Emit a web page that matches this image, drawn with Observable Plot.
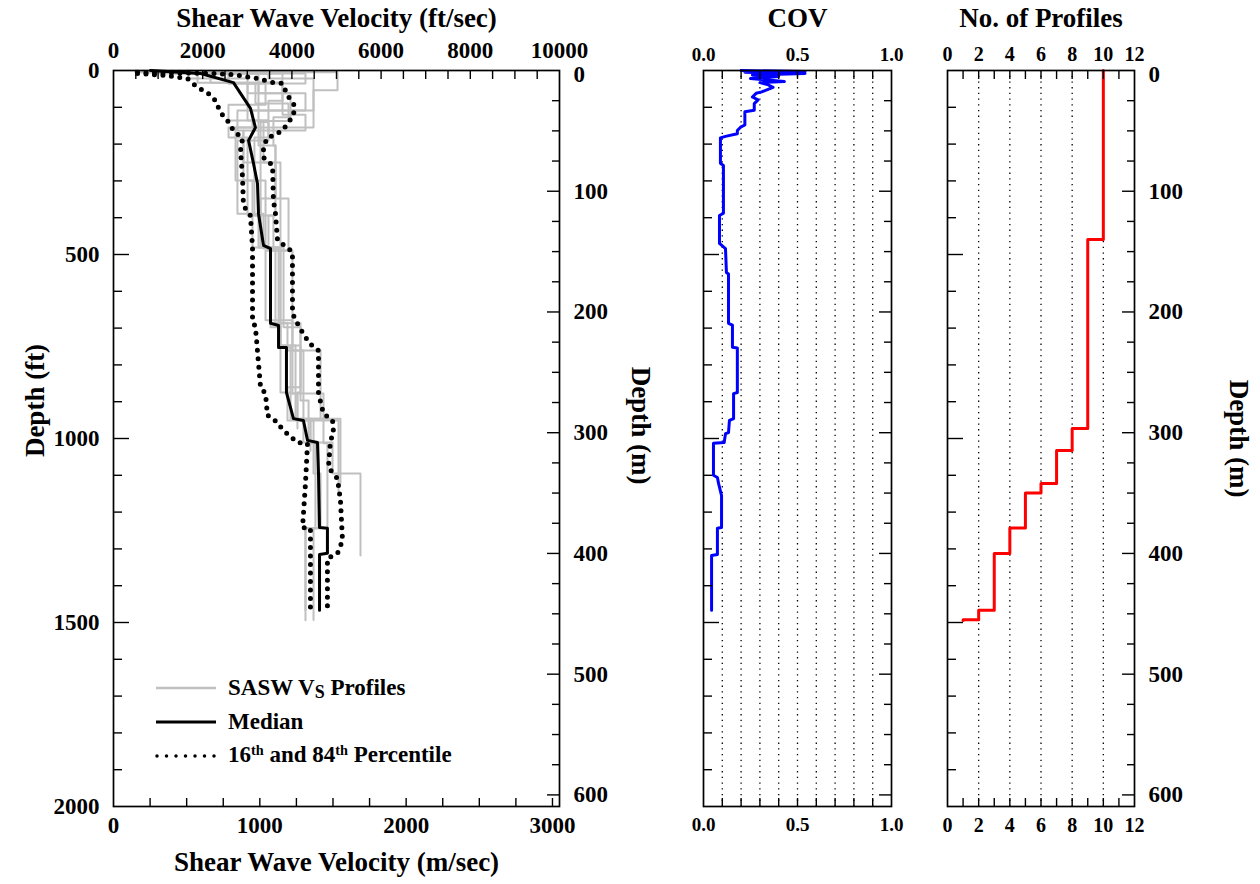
<!DOCTYPE html>
<html><head><meta charset="utf-8">
<script src="https://cdn.jsdelivr.net/npm/d3@7"></script>
<script src="https://cdn.jsdelivr.net/npm/@observablehq/plot@0.6"></script>
<style>
body{margin:0;background:#fff;}
#wrap{position:relative;width:1260px;height:884px;overflow:hidden;font-family:"Liberation Serif","Times New Roman",serif;font-weight:bold;}
#wrap svg.panel{position:absolute;top:0;}
#legend{position:absolute;left:155px;top:671px;font:bold 23px "Liberation Serif","Times New Roman",serif;color:#000;}
#legend .row{display:flex;align-items:center;height:34px;line-height:34px;white-space:nowrap;}
#legend svg{margin-right:11px;}
#legend sub{font-size:0.78em;position:relative;top:0.22em;vertical-align:baseline;}
#legend sup{font-size:0.62em;position:relative;top:-0.5em;vertical-align:baseline;}
</style></head><body>
<div id="wrap">
  <div id="legend">
    <div class="row"><svg width="62" height="10"><line x1="1" x2="61" y1="5" y2="5" stroke="#c0c0c0" stroke-width="2.5"/></svg><span>SASW V<sub>S</sub> Profiles</span></div>
    <div class="row"><svg width="62" height="10"><line x1="1" x2="61" y1="5" y2="5" stroke="#000" stroke-width="3"/></svg><span>Median</span></div>
    <div class="row"><svg width="62" height="10"><line x1="2" x2="61" y1="5" y2="5" stroke="#000" stroke-width="3.5" stroke-linecap="round" stroke-dasharray="0 9.5"/></svg><span>16<sup>th</sup> and 84<sup>th</sup> Percentile</span></div>
  </div>
</div>
<script>
const mPerFt = 0.3048;
const ftPerM = 1 / mPerFt;

// ---- SASW Vs profiles: layer boundaries (ft) and Vs (m/sec) ----
const sasw1Depth = [0,5,54,155,182,394,481,687,761,946,1013,1244,1494];
const sasw1Vs    = [200,1531,1367,786,916,991,1107,1189,1298,1346,1401,1312];
const sasw2Depth = [0,8,33,82,136,204,348,489,679,878,951,1095,1244,1493];
const sasw2Vs    = [300,663,1155,1059,991,1107,1196,1039,1223,1257,1367,1415,1367];
const sasw3Depth = [0,5,22,62,109,163,299,481,698,875,946,1011,1244,1467];
const sasw3Vs    = [150,513,916,1312,847,888,950,1073,1141,1210,1298,1380,1312];
const sasw4Depth = [0,8,35,90,137,250,394,489,747,897,1011,1095,1318];
const sasw4Vs    = [513,786,970,1196,1025,1107,1059,1141,1278,1333,1497,1688];
const sasw5Depth = [0,8,33,140,190,389,484,753,878,1013,1243];
const sasw5Vs    = [400,1155,991,1059,847,1025,1128,1210,1435,1462];
const sasw6Depth = [0,5,33,120,163,250,481,687,861,951,1148];
const sasw6Vs    = [250,574,1155,1312,888,1141,1073,1278,1189,1538];
const sasw7Depth = [0,5,35,93,136,299,481,747,946,1122];
const sasw7Vs    = [350,788,1039,786,1005,1039,1141,1244,1551];
const sasw8Depth = [0,8,35,136,182,394,489,761,946,1033];
const sasw8Vs    = [600,1312,916,1059,963,1093,1223,1415,1346];
const sasw9Depth = [0,8,22,109,155,299,481,698,875,973];
const sasw9Vs    = [916,1059,1367,950,834,1005,1162,1278,1257];
const sasw10Depth = [0,8,62,127,204,348,459];
const sasw10Vs    = [450,991,1210,1093,1107,1005];

// ---- Median and percentiles (vertices: Vs m/sec, depth ft) ----
const medianVs    = [253,595,820,868,936,970,923,957,984,991,1025,1073,1073,1128,1128,1182,1182,1230,1298,1326,1394,1401,1408,1462,1462,1408,1408];
const medianDepth = [0,8,33,62,103,155,190,253,307,389,475,484,687,693,753,753,875,946,951,1005,1011,1095,1242,1244,1312,1315,1467];
const p16Vs    = [164,369,506,574,642,697,731,779,820,882,868,882,888,936,950,950,970,1005,1039,1052,1093,1162,1257,1326,1312,1292,1346,1346];
const p16Depth = [8,14,22,46,60,82,114,136,163,185,217,291,367,394,481,679,698,861,878,937,946,978,1011,1013,1122,1242,1244,1462];
const p84Vs    = [164,683,820,984,1093,1155,1175,1210,1237,1230,1196,1155,1093,1052,1025,1025,1087,1093,1107,1121,1189,1223,1223,1264,1312,1367,1401,1401,1435,1497,1504,1483,1469,1531,1551,1565,1531,1462,1462];
const p84Depth = [5,8,11,22,33,35,54,82,95,122,141,163,177,182,209,236,258,353,389,462,481,494,660,693,725,753,761,878,932,951,986,1005,1079,1109,1168,1277,1312,1326,1467];

// ---- COV vs depth (ft) ----
const covValue = [0.20,0.54,0.22,0.54,0.26,0.40,0.25,0.43,0.30,0.34,0.37,0.35,0.31,0.28,0.26,0.29,0.27,0.27,0.22,0.22,0.197,0.18,0.18,0.117,0.09,0.09,0.106,0.106,0.085,0.085,0.117,0.122,0.133,0.133,0.154,0.154,0.18,0.18,0.16,0.16,0.138,0.133,0.117,0.11,0.053,0.053,0.074,0.08,0.096,0.096,0.074,0.074,0.043,0.043];
const covDepth = [0,3,5,8,12,16,22,30,33,38,46,50,58,62,72,80,90,108,112,148,154,163,172,179,183,252,258,388,394,470,484,549,553,687,692,752,754,875,878,946,951,984,987,1011,1013,1100,1106,1122,1155,1242,1244,1315,1318,1467];

// ---- Number of profiles: layer boundaries (m) and counts ----
const countDepthM = [0,140,296.5,314.8,342,350,379,400,447,455,455.5];
const countN      = [10,9,8,7,6,5,4,3,2,1];

// ---- Tick labels ----
const ftSecLabels = [0,2000,4000,6000,8000,10000];
const mSecLabels = [0,1000,2000,3000];
const depthFtLabels = [0,500,1000,1500,2000];
const depthMLabels = [0,100,200,300,400,500,600];
const covLabels = [0,0.5,1.0];
const countLabels = [0,2,4,6,8,10,12];

// ---- build tables ----
const saswList = [[sasw1Depth,sasw1Vs],[sasw2Depth,sasw2Vs],[sasw3Depth,sasw3Vs],[sasw4Depth,sasw4Vs],[sasw5Depth,sasw5Vs],[sasw6Depth,sasw6Vs],[sasw7Depth,sasw7Vs],[sasw8Depth,sasw8Vs],[sasw9Depth,sasw9Vs],[sasw10Depth,sasw10Vs]];
const saswPts = [];
saswList.forEach(([dep, vs], id) => {
  vs.forEach((v, i) => {
    saswPts.push({id, vs: v, depth: dep[i]});
    saswPts.push({id, vs: v, depth: dep[i + 1]});
  });
});
const zipPts = (xs, ys) => xs.map((v, i) => ({vs: v, depth: ys[i]}));
const medianPts = zipPts(medianVs, medianDepth);
const p16Pts = zipPts(p16Vs, p16Depth);
const p84Pts = zipPts(p84Vs, p84Depth);
const covPts = covValue.map((c, i) => ({cov: c, depth: covDepth[i]}));
const countPts = [];
countN.forEach((n, i) => {
  countPts.push({n, depth: countDepthM[i] * ftPerM});
  countPts.push({n, depth: countDepthM[i + 1] * ftPerM});
});

const fontStyle = {fontFamily: "'Liberation Serif','Times New Roman',serif", fontWeight: "bold", background: "transparent", overflow: "visible", color: "black"};
const intFmt = d3.format("d");
const titleOpts = {fontSize: 27, fontWeight: "bold", textAnchor: "middle", lineAnchor: "middle"};
const mFmt = d => intFmt(Math.round(d / ftPerM));

// depth ticks shared by the three panels
const ftMinor = d3.range(100, 2000, 100).filter(d => d % 500 !== 0);
const ftMajor = [500, 1000, 1500];
const mMinor = d3.range(25, 610, 25).filter(d => d % 100 !== 0).map(m => m * ftPerM);
const mMajor = [100, 200, 300, 400, 500, 600].map(m => m * ftPerM);
function depthTickMarks() {
  return [
    Plot.axisY(ftMinor, {anchor: "left", tickSize: -9, fill: "none", label: null, strokeWidth: 1.4}),
    Plot.axisY(ftMajor, {anchor: "left", tickSize: -16, fill: "none", label: null, strokeWidth: 1.4}),
    Plot.axisY(mMinor, {anchor: "right", tickSize: -8, fill: "none", label: null, strokeWidth: 1.4}),
    Plot.axisY(mMajor, {anchor: "right", tickSize: -13, fill: "none", label: null, strokeWidth: 1.4})
  ];
}
function depthMLabelMarks() {
  return [
    Plot.axisY(depthMLabels.slice(0, 1).map(m => m * ftPerM), {anchor: "right", tickSize: 0, tickPadding: 14, dy: 4, tickFormat: mFmt, fontSize: 23, label: null}),
    Plot.axisY(depthMLabels.slice(1).map(m => m * ftPerM), {anchor: "right", tickSize: 0, tickPadding: 14, tickFormat: mFmt, fontSize: 23, label: null})
  ];
}
const common = {height: 884, marginTop: 70, marginBottom: 78, style: fontStyle, y: {domain: [0, 2000], reverse: true}};

// ---- Panel 1: Vs profiles ----
const p1 = Plot.plot({
  ...common,
  width: 660, marginLeft: 113, marginRight: 101,
  x: {domain: [0, 10000 * mPerFt]},
  marks: [
    Plot.line(saswPts, {x: "vs", y: "depth", z: "id", stroke: "#c0c0c0", strokeWidth: 2}),
    Plot.line(p16Pts, {x: "vs", y: "depth", stroke: "black", strokeWidth: 5, strokeDasharray: "0 8.5", strokeLinecap: "round"}),
    Plot.line(p84Pts, {x: "vs", y: "depth", stroke: "black", strokeWidth: 5, strokeDasharray: "0 8.5", strokeLinecap: "round"}),
    Plot.line(medianPts, {x: "vs", y: "depth", stroke: "black", strokeWidth: 3}),
    Plot.frame({stroke: "black", strokeWidth: 1.7}),
    ...depthTickMarks(),
    Plot.axisX(d3.range(500, 10000, 500).map(f => f * mPerFt), {anchor: "top", tickSize: -8, fill: "none", label: null, strokeWidth: 1.4}),
    Plot.axisX(d3.range(250, 3048, 250), {anchor: "bottom", tickSize: -8, fill: "none", label: null, strokeWidth: 1.4}),
    Plot.axisX(ftSecLabels.map(f => f * mPerFt), {anchor: "top", tickSize: 0, tickPadding: 13, tickFormat: d => intFmt(Math.round(d / mPerFt)), fontSize: 23, label: null}),
    Plot.axisX(mSecLabels, {anchor: "bottom", tickSize: 0, tickPadding: 10, tickFormat: intFmt, fontSize: 23, label: null}),
    Plot.axisY(depthFtLabels, {anchor: "left", tickSize: 0, tickPadding: 14, tickFormat: intFmt, fontSize: 23, label: null}),
    ...depthMLabelMarks(),
    Plot.text(["Shear Wave Velocity (ft/sec)"], {frameAnchor: "top", dy: -52, ...titleOpts}),
    Plot.text(["Shear Wave Velocity (m/sec)"], {frameAnchor: "bottom", dy: 56, ...titleOpts}),
    Plot.text(["Depth (ft)"], {frameAnchor: "left", dx: -78, dy: -38, rotate: -90, ...titleOpts}),
    Plot.text(["Depth (m)"], {frameAnchor: "right", dx: 81, dy: -13, rotate: 90, ...titleOpts})
  ]
});

// ---- Panel 2: COV ----
const p2 = Plot.plot({
  ...common,
  width: 260, marginLeft: 43, marginRight: 29,
  x: {domain: [0, 1]},
  marks: [
    Plot.ruleX(d3.range(1, 10).map(i => i / 10), {stroke: "black", strokeWidth: 1.3, strokeDasharray: "1.3 4.4"}),
    Plot.line(covPts, {x: "cov", y: "depth", stroke: "#0000ff", strokeWidth: 3}),
    Plot.frame({stroke: "black", strokeWidth: 1.7}),
    ...depthTickMarks(),
    Plot.axisX(d3.range(1, 10).map(i => i / 10), {anchor: "top", tickSize: -8, fill: "none", label: null, strokeWidth: 1.4}),
    Plot.axisX(d3.range(1, 10).map(i => i / 10), {anchor: "bottom", tickSize: -8, fill: "none", label: null, strokeWidth: 1.4}),
    Plot.axisX(covLabels, {anchor: "top", tickSize: 0, tickPadding: 10, tickFormat: d3.format(".1f"), fontSize: 19, label: null}),
    Plot.axisX(covLabels, {anchor: "bottom", tickSize: 0, tickPadding: 11, tickFormat: d3.format(".1f"), fontSize: 19, label: null}),
    Plot.text(["COV"], {frameAnchor: "top", dy: -52, ...titleOpts})
  ]
});

// ---- Panel 3: number of profiles ----
const p3 = Plot.plot({
  ...common,
  width: 340, marginLeft: 27, marginRight: 126,
  x: {domain: [0, 12]},
  marks: [
    Plot.ruleX([2, 4, 6, 8, 10], {stroke: "black", strokeWidth: 1.3, strokeDasharray: "1.3 4.4"}),
    Plot.line(countPts, {x: "n", y: "depth", stroke: "#ff0000", strokeWidth: 3}),
    Plot.frame({stroke: "black", strokeWidth: 1.7}),
    ...depthTickMarks(),
    Plot.axisX(d3.range(1, 12), {anchor: "top", tickSize: -8, fill: "none", label: null, strokeWidth: 1.4}),
    Plot.axisX(d3.range(1, 12), {anchor: "bottom", tickSize: -8, fill: "none", label: null, strokeWidth: 1.4}),
    Plot.axisX(countLabels, {anchor: "top", tickSize: 0, tickPadding: 10, tickFormat: intFmt, fontSize: 20, label: null}),
    Plot.axisX(countLabels, {anchor: "bottom", tickSize: 0, tickPadding: 11, tickFormat: intFmt, fontSize: 20, label: null}),
    ...depthMLabelMarks(),
    Plot.text(["No. of Profiles"], {frameAnchor: "top", dy: -52, ...titleOpts}),
    Plot.text(["Depth (m)"], {frameAnchor: "right", dx: 104, rotate: 90, ...titleOpts})
  ]
});

const wrap = document.getElementById("wrap");
[[p1, 0], [p2, 660], [p3, 920]].forEach(([svg, left]) => {
  svg.classList.add("panel");
  svg.style.left = left + "px";
  svg.style.maxWidth = "none";
  wrap.insertBefore(svg, document.getElementById("legend"));
});
</script>
</body></html>
